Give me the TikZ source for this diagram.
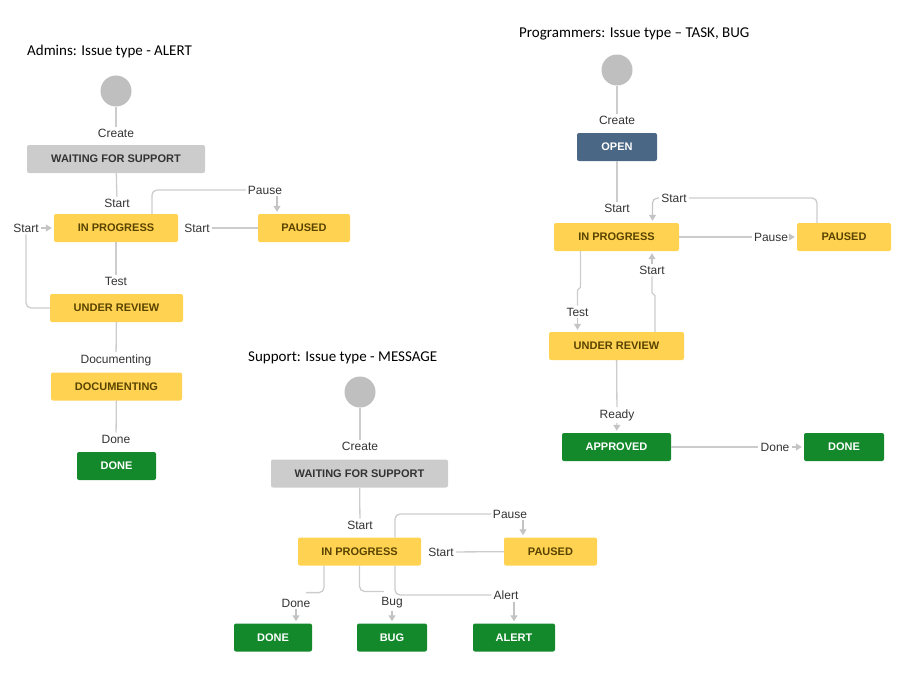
\documentclass[tikz,border=0pt]{standalone}
\usepackage{fontspec}
\setmainfont{Liberation Sans}
\newfontfamily\titlefont{Carlito}
\usetikzlibrary{arrows.meta}
\definecolor{linegray}{HTML}{CCCCCC}
\definecolor{tipgray}{HTML}{C4C4C4}
\definecolor{boxgray}{HTML}{CCCCCC}
\definecolor{boxyellow}{HTML}{FFD351}
\definecolor{boxgreen}{HTML}{14892C}
\definecolor{boxblue}{HTML}{4A6785}
\definecolor{circgray}{HTML}{BFBFBF}
\definecolor{txtdark}{HTML}{333333}
\definecolor{txtbrown}{HTML}{594300}
\tikzset{
  stbox/.style={rectangle, rounded corners=2pt, minimum height=28pt, inner sep=0pt,
    font=\fontsize{11}{13}\selectfont\bfseries},
  gbox/.style={stbox, fill=boxgray, text=txtdark},
  ybox/.style={stbox, fill=boxyellow, text=txtbrown},
  grbox/.style={stbox, fill=boxgreen, text=white},
  blbox/.style={stbox, fill=boxblue, text=white},
  startcirc/.style={circle, fill=circgray, minimum size=31pt, inner sep=0pt},
  lbl/.style={font=\fontsize{12}{14}\selectfont, text=txtdark, inner sep=2pt},
  ttl/.style={font=\titlefont\fontsize{15}{18}\selectfont, text=black, inner sep=0pt, anchor=west},
  conn/.style={draw=linegray, line width=1.3pt, rounded corners=5pt},
  arr/.style={draw=tipgray, line width=1.2pt, -{Triangle[width=7pt,length=6pt]}, shorten >=2pt}
}
\begin{document}
\begin{tikzpicture}[x=1pt, y=-1pt]
\useasboundingbox (0,0) rectangle (917,674);
% ---------- Admins ----------
\node[ttl] (t1) at (27,52) {Admins: Issue type - ALERT};
\node[startcirc] (a0) at (116,91) {};
\node[lbl] (a0l) at (116,133) {Create};
\node[gbox, minimum width=178pt] (a1) at (116,159) {WAITING FOR SUPPORT};
\node[lbl] (a1l) at (117,203) {Start};
\node[ybox, minimum width=124pt] (a2) at (116,228) {IN PROGRESS};
\node[ybox, minimum width=92pt] (a3) at (304,228) {PAUSED};
\node[lbl] (apl) at (265,190) {Pause};
\node[lbl] (asl) at (197,228) {Start};
\node[lbl] (asl2) at (26,228) {Start};
\node[lbl] (atl) at (116,281) {Test};
\node[ybox, minimum width=133pt] (a4) at (116.5,308) {UNDER REVIEW};
\node[lbl] (adl) at (116,360) {Documenting};
\node[ybox, minimum width=131pt] (a5) at (116.5,386.5) {DOCUMENTING};
\node[lbl] (adnl) at (116,439) {Done};
\node[grbox, minimum width=79pt] (a6) at (116.5,466) {DONE};
\draw[conn] (a0) -- (a0l);
\draw[conn] (a1) -- (a1l);
\draw[conn] (a3) -- (asl);
\draw[conn] ([xshift=36pt]a2.north) |- (apl);
\draw[arr] ([xshift=12pt]apl.south) -- ([xshift=-27pt]a3.north);
\draw[conn] (a4.west) -| (asl2);
\draw[arr] (asl2) -- (a2);
\draw[conn] (a2) -- (atl);
\draw[conn] (a4) -- (adl);
\draw[conn] (a5) -- (adnl);
% ---------- Programmers ----------
\node[ttl] (t2) at (519,34) {Programmers: Issue type – TASK, BUG};
\node[startcirc] (p0) at (617,70) {};
\node[lbl] (p0l) at (617,120) {Create};
\node[blbox, minimum width=80pt] (p1) at (617,147) {OPEN};
\node[lbl] (p1l) at (617,208) {Start};
\node[ybox, minimum width=125pt] (p2) at (616.5,237) {IN PROGRESS};
\node[ybox, minimum width=94pt] (p3) at (844,237) {PAUSED};
\node[lbl] (ppl) at (771,237) {Pause};
\node[lbl] (psl) at (674,198) {Start};
\node[lbl] (ptl) at (577.5,312) {Test};
\node[lbl] (pul) at (652,270) {Start};
\node[ybox, minimum width=135pt] (p4) at (616.5,346) {UNDER REVIEW};
\node[lbl] (prl) at (617,415) {Ready};
\node[grbox, minimum width=109pt] (p5) at (616.5,447) {APPROVED};
\node[lbl] (pdl) at (775,447) {Done};
\node[grbox, minimum width=80pt] (p6) at (844,447) {DONE};
\draw[conn] (p0) -- (p0l);
\draw[conn] (p1) -- (p1l);
\draw[conn] (p2) -- (ppl);
\draw[arr] (ppl) -- (p3);
\draw[conn] ([xshift=-27pt]p3.north) |- (psl);
\draw[arr, rounded corners=5pt] (psl.west) -| ([xshift=36pt]p2.north);
\draw[conn, rounded corners=0pt] ([xshift=-36pt]p2.south) -- ++(0,36) -- ++(-3,3) -- (ptl);
\draw[arr] (ptl) -- (ptl |- p4.north);
\draw[conn, rounded corners=0pt] ([xshift=38.5pt]p4.north) -- ++(0,-36) -- ++(-3,-3) -- (pul);
\draw[arr] (pul) -- (pul |- p2.south);
\draw[conn] (p4) -- (prl);
\draw[arr] (prl) -- (p5);
\draw[conn] (p5) -- (pdl);
\draw[arr] (pdl) -- (p6);
% ---------- Support ----------
\node[ttl] (t3) at (248,358) {Support: Issue type - MESSAGE};
\node[startcirc] (s0) at (360,392) {};
\node[lbl] (s0l) at (360,446) {Create};
\node[gbox, minimum width=177pt] (s1) at (359.5,473.5) {WAITING FOR SUPPORT};
\node[lbl] (s1l) at (360,525) {Start};
\node[ybox, minimum width=123pt] (s2) at (359.5,551.5) {IN PROGRESS};
\node[ybox, minimum width=93pt] (s3) at (550.5,551.5) {PAUSED};
\node[lbl] (sstl) at (441,552) {Start};
\node[lbl] (spl) at (510,514) {Pause};
\node[lbl] (sdl) at (296,603) {Done};
\node[lbl] (sbl) at (392,603) {Bug};
\node[lbl] (sal) at (506,595) {Alert};
\node[grbox, minimum width=78pt] (s4) at (273,637.5) {DONE};
\node[grbox, minimum width=70pt] (s5) at (392,637.5) {BUG};
\node[grbox, minimum width=82pt] (s6) at (514,637.5) {ALERT};
\draw[conn] (s0) -- (s0l);
\draw[conn] (s1) -- (s1l);
\draw[conn] (s3) -- (sstl);
\draw[conn] ([xshift=35.5pt]s2.north) |- (spl);
\draw[arr] ([xshift=13pt]spl.south) -- ([xshift=-27.5pt]s3.north);
\draw[conn] ([xshift=-35.5pt]s2.south) |- ([xshift=10pt,yshift=4pt]sdl.north);
\draw[arr] (sdl) -- (sdl |- s4.north);
\draw[conn] (s2.south) |- ([xshift=-8pt,yshift=4pt]sbl.north);
\draw[arr] (sbl) -- (s5);
\draw[conn] ([xshift=35.5pt]s2.south) |- (sal);
\draw[arr] (sal.south -| s6.north) -- (s6.north);
\end{tikzpicture}
\end{document}
